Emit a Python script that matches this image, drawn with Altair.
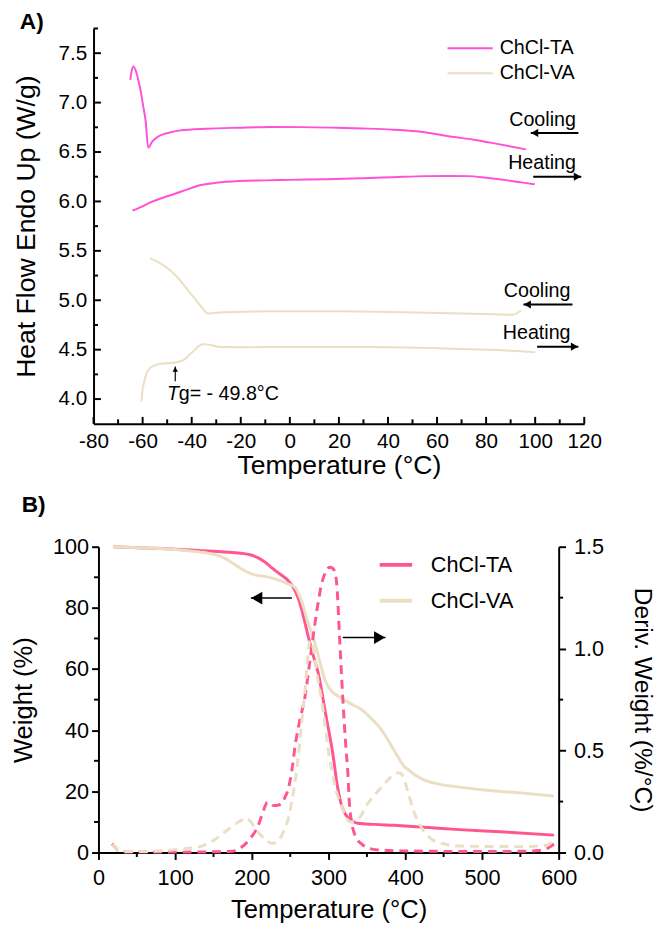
import altair as alt
import pandas as pd

FONT = "Liberation Sans"

# ---------------- Panel A: DSC ----------------
ta_cool_T = [-65.0, -64.5, -63.7, -62.5, -61.5, -60.8, -59.8, -58.8, -57.7, -56.1, -54.1, -50.1, -44.7, -34.0,
             -20.7, -7.3, 5.0, 19.4, 30.0, 42.1, 55.0, 66.2, 75.0, 85.0, 96.2]
ta_cool_v = [7.23, 7.316, 7.365, 7.30, 7.20, 7.117, 6.97, 6.82, 6.544, 6.604, 6.65, 6.69, 6.719, 6.736,
             6.746, 6.753, 6.752, 6.745, 6.738, 6.726, 6.70, 6.654, 6.625, 6.58, 6.527]

ta_heat_T = [-64.1, -60.0, -56.8, -52.0, -47.4, -42.0, -36.7, -30.0, -20.7, -10.0, 0.0, 15.4, 30.0, 42.0,
             55.5, 65.0, 72.9, 80.0, 88.9, 95.0, 99.8]
ta_heat_v = [5.908, 5.95, 5.99, 6.035, 6.073, 6.12, 6.163, 6.188, 6.206, 6.213, 6.218, 6.225, 6.235, 6.245,
             6.256, 6.258, 6.256, 6.24, 6.213, 6.19, 6.173]

va_cool_T = [-57.0, -54.0, -50.1, -46.5, -43.4, -40.5, -38.1, -35.6, -33.4, -31.0, -28.7, -20.0, -14.0, 0.0,
             19.4, 40.0, 55.5, 70.0, 80.0, 90.2, 92.5, 94.2]
va_cool_v = [5.427, 5.39, 5.328, 5.25, 5.16, 5.07, 4.997, 4.92, 4.864, 4.87, 4.877, 4.883, 4.887, 4.888,
             4.888, 4.882, 4.874, 4.866, 4.86, 4.854, 4.868, 4.897]

va_heat_T = [-60.5, -60.0, -59.3, -58.8, -57.5, -56.1, -52.7, -47.4, -43.4, -41.2, -39.4, -37.2, -35.4, -32.7,
             -28.7, -20.0, 0.0, 20.0, 40.0, 60.0, 80.0, 90.0, 100.0]
va_heat_v = [3.976, 4.10, 4.18, 4.234, 4.30, 4.33, 4.357, 4.367, 4.393, 4.44, 4.483, 4.535, 4.556, 4.55,
             4.527, 4.525, 4.527, 4.527, 4.525, 4.515, 4.50, 4.49, 4.475]

series_names = ["ChCl-TA", "ChCl-VA"]
colors_A = ["#FF50D8", "#EADFC2"]
colors_B = ["#FF5590", "#EADFC2"]

# annotations panel A
ann_text = ["Cooling", "Heating", "Cooling", "Heating"]
ann_T = [103.0, 102.8, 100.8, 100.6]
ann_v = [6.82, 6.388, 5.096, 4.668]
arr_T1 = [98.2, 99.2, 95.2, 100.8]
arr_T2 = [117.6, 118.8, 115.2, 117.6]
arr_v = [6.693, 6.25, 4.957, 4.53]
arr_dir = ["left", "right", "left", "right"]

tg_T = -46.7
tg_v1, tg_v2 = 4.18, 4.33
tg_text_T = -50.1
tg_text_v = 4.05

A_x_major = list(range(-80, 121, 20))
A_x_minor = list(range(-70, 111, 20))
A_y_major = [4.0, 4.5, 5.0, 5.5, 6.0, 6.5, 7.0, 7.5]
A_y_minor = [4.25, 4.75, 5.25, 5.75, 6.25, 6.75, 7.25, 7.75]

# ---------------- Panel B: TGA ----------------
ta_w_T = [18.9, 60, 100, 119.5, 150, 170, 188, 200, 209.4, 218, 226.5, 237, 248, 255, 260.8, 267, 273.6, 280,
          286.5, 296, 305.8, 311, 316.4, 322, 327.2, 333, 337.9, 360, 385, 430, 470.6, 530, 593.9]
ta_w = [100, 99.6, 99.2, 98.9, 98.5, 98.2, 97.8, 97.2, 96.2, 94.8, 93.0, 91.0, 88.7, 86.2, 82.9, 77.5, 70.5, 64.5,
        58.7, 45.5, 31.9, 22.5, 15.9, 12.5, 11.0, 10.0, 9.6, 9.2, 8.9, 8.2, 7.5, 6.7, 5.7]

va_w_T = [18.9, 60, 100, 119.5, 140, 153.8, 165, 175, 186, 196.6, 205, 213.7, 225, 239.4, 250, 256.6, 262, 267,
          273.6, 282.3, 289, 295.1, 303, 312.2, 318.6, 330, 342.1, 355, 367.8, 376.4, 384, 391.4, 398, 406.3,
          415, 427.7, 445, 470.5, 513.4, 550, 593.8]
va_w = [100, 99.6, 99.1, 98.6, 98.0, 97.3, 96.2, 94.6, 92.8, 91.4, 90.7, 90.4, 89.8, 88.7, 87.5, 86.6, 84.0, 80.5,
        74.8, 68.4, 62.0, 56.6, 53.0, 51.2, 50.2, 48.5, 46.9, 44.0, 40.5, 37.3, 34.0, 30.9, 28.3, 26.6,
        25.0, 23.4, 22.3, 21.4, 20.2, 19.5, 18.5]

ta_d_T = [17.6, 21, 25.3, 35, 60, 100, 140, 170, 179.4, 186, 192.3, 198, 205.1, 210, 213.7, 217, 220.1, 224,
          228.7, 233, 238.5, 243, 247.9, 252, 256.5, 262, 269.4, 276, 282.2, 287, 290.8, 296, 301.5, 305, 308,
          311, 314.3, 318.6, 322.9, 325, 327.2, 330, 333.6, 337, 342.1, 350, 363.5, 400, 450, 500, 550, 573.3,
          585, 593.9]
ta_d = [0.042, 0.03, 0.01, 0.003, 0.002, 0.002, 0.003, 0.005, 0.01, 0.025, 0.045, 0.07, 0.109, 0.15, 0.19,
        0.225, 0.246, 0.242, 0.23, 0.232, 0.238, 0.27, 0.318, 0.40, 0.527, 0.64, 0.768, 0.95, 1.122, 1.24,
        1.315, 1.375, 1.399, 1.395, 1.379, 1.30, 1.058, 0.752, 0.50, 0.399, 0.238, 0.15, 0.093, 0.065, 0.045,
        0.025, 0.013, 0.008, 0.006, 0.005, 0.006, 0.01, 0.02, 0.042]

va_d_T = [18.9, 23, 29.5, 60, 98, 115, 132.3, 148, 162.2, 175, 188, 193, 198.7, 206, 213.7, 220, 226.5, 231,
          235.1, 241, 248, 252, 256.5, 262.9, 266, 269.4, 273.6, 276, 279, 283, 286, 290.8, 295, 299.3, 305,
          310, 316.4, 323, 329.3, 340, 350.7, 362, 372.1, 381, 389.2, 393, 397.8, 404, 410.6, 417, 423.5, 433,
          444.9, 470.6, 500, 556.3, 586.2, 594.8]
va_d = [0.042, 0.02, 0.005, 0.005, 0.013, 0.02, 0.029, 0.055, 0.093, 0.13, 0.161, 0.168, 0.15, 0.11, 0.077,
        0.055, 0.045, 0.05, 0.061, 0.10, 0.174, 0.25, 0.351, 0.56, 0.68, 0.80, 0.994, 1.04, 1.02, 0.93, 0.85,
        0.752, 0.64, 0.51, 0.39, 0.30, 0.238, 0.17, 0.15, 0.17, 0.238, 0.29, 0.334, 0.37, 0.39, 0.39, 0.367,
        0.29, 0.206, 0.15, 0.109, 0.07, 0.048, 0.032, 0.03, 0.029, 0.037, 0.077]

B_arr_T1 = [198.7, 318.6]
B_arr_T2 = [252.2, 374.2]
B_arr_w = [83.2, 70.3]
B_arr_dir = ["left", "right"]

B_x_major = list(range(0, 601, 100))
B_x_minor = list(range(50, 551, 100))
B_w_major = [0, 20, 40, 60, 80, 100]
B_w_minor = [10, 30, 50, 70, 90]
B_d_major = [0.0, 0.5, 1.0, 1.5]
B_d_minor = [0.25, 0.75, 1.25]

A_W, A_H = 499, 402
B_W, B_H = 468, 311
B_OFF = 5              # panel B's plot sits a little right of panel A's
B_GW = B_W + B_OFF

AXIS_TXT = dict(labelFont=FONT, titleFont=FONT, labelColor="black", titleColor="black",
                titleFontWeight="normal", labelFontWeight="normal", domainColor="black",
                tickColor="black", grid=False, labelOverlap=False, labelFlush=False, domainWidth=2)


def frame(T, v, s, mode):
    return pd.DataFrame({"T": T, "v": v, "series": s, "mode": mode, "i": list(range(len(T)))})


def legend_rows(names, colors, x1, x2, xt, ys, sw, fs):
    layers = []
    for name, col, y in zip(names, colors, ys):
        d = pd.DataFrame({"t": [name]})
        layers.append(alt.Chart(d).mark_rule(color=col, strokeWidth=sw).encode(
            x=alt.value(x1), x2=alt.value(x2), y=alt.value(y)))
        layers.append(alt.Chart(d).mark_text(align="left", baseline="middle", fontSize=fs, font=FONT,
                                             color="black").encode(
            x=alt.value(xt), y=alt.value(y), text="t:N"))
    return layers


# ---------------- build panel A ----------------
dsc = pd.concat([
    frame(ta_cool_T, ta_cool_v, "ChCl-TA", "cool"),
    frame(ta_heat_T, ta_heat_v, "ChCl-TA", "heat"),
    frame(va_cool_T, va_cool_v, "ChCl-VA", "cool"),
    frame(va_heat_T, va_heat_v, "ChCl-VA", "heat"),
])

xA = alt.X("T:Q", scale=alt.Scale(domain=[-80, 120], nice=False),
           axis=alt.Axis(values=A_x_major, title="Temperature (°C)", ticks=False, tickSize=0,
                         labelExpr="toString(datum.value)",
                         labelPadding=7, titlePadding=2, labelFontSize=21, titleFontSize=27, **AXIS_TXT))
yA = alt.Y("v:Q", scale=alt.Scale(domain=[3.75, 7.75], nice=False, zero=False),
           axis=alt.Axis(values=A_y_major, format=".1f", title="Heat Flow Endo Up (W/g)", ticks=False,
                         tickSize=0, labelPadding=7, titlePadding=18, labelFontSize=21, titleFontSize=27,
                         **AXIS_TXT))

linesA = alt.Chart(dsc).mark_line(strokeWidth=2, interpolate="monotone").encode(
    x=xA, y=yA,
    color=alt.Color("series:N", scale=alt.Scale(domain=series_names, range=colors_A), legend=None),
    detail="mode:N", order="i:Q")

ann_df = pd.DataFrame({"T": ann_T, "v": ann_v, "text": ann_text})
annA = alt.Chart(ann_df).mark_text(fontSize=20, font=FONT, color="black").encode(
    x=xA, y=yA, text="text:N")

arr_df = pd.DataFrame({"T": arr_T1, "T2": arr_T2, "v": arr_v, "dir": arr_dir})
shaftA = alt.Chart(arr_df).mark_rule(strokeWidth=2, color="black").encode(x=xA, x2="T2:Q", y=yA)
headLA = alt.Chart(arr_df[arr_df["dir"] == "left"]).mark_point(
    shape="triangle-left", filled=True, size=70, color="black", opacity=1, xOffset=4).encode(x=xA, y=yA)
headRA = alt.Chart(arr_df[arr_df["dir"] == "right"].assign(T=lambda d: d["T2"])).mark_point(
    shape="triangle-right", filled=True, size=70, color="black", opacity=1, xOffset=-4).encode(x=xA, y=yA)

tg_df = pd.DataFrame({"T": [tg_T], "v": [tg_v1], "v2": [tg_v2]})
tgShaft = alt.Chart(tg_df).mark_rule(strokeWidth=1.2, color="black").encode(x=xA, y=yA, y2="v2:Q")
tgHead = alt.Chart(tg_df.assign(v=tg_v2)).mark_point(
    shape="triangle-up", filled=True, size=30, color="black", opacity=1, yOffset=3).encode(x=xA, y=yA)
tgT = alt.Chart(pd.DataFrame({"T": [tg_text_T], "v": [tg_text_v], "t": ["T"]})).mark_text(
    fontSize=20, font=FONT, fontStyle="italic", align="left", color="black").encode(x=xA, y=yA, text="t:N")
tgRest = alt.Chart(pd.DataFrame({"T": [tg_text_T], "v": [tg_text_v], "t": ["g= - 49.8°C"]})).mark_text(
    fontSize=20, font=FONT, align="left", dx=12, color="black").encode(x=xA, y=yA, text="t:N")

tickAxM = alt.Chart(pd.DataFrame({"T": A_x_major})).mark_rule(strokeWidth=2, color="black").encode(
    x=xA, y=alt.value(A_H), y2=alt.value(A_H - 7))
tickAxm = alt.Chart(pd.DataFrame({"T": A_x_minor})).mark_rule(strokeWidth=2, color="black").encode(
    x=xA, y=alt.value(A_H), y2=alt.value(A_H - 4.5))
tickAyM = alt.Chart(pd.DataFrame({"v": A_y_major})).mark_rule(strokeWidth=2, color="black").encode(
    y=yA, x=alt.value(0), x2=alt.value(7.5))
tickAym = alt.Chart(pd.DataFrame({"v": A_y_minor})).mark_rule(strokeWidth=2, color="black").encode(
    y=yA, x=alt.value(0), x2=alt.value(4.5))

labA = alt.Chart(pd.DataFrame({"t": ["A)"]})).mark_text(
    fontSize=23, fontWeight="bold", font=FONT, align="left", baseline="middle", color="black").encode(
    x=alt.value(-75), y=alt.value(-6), text="t:N")

legA = legend_rows(series_names, colors_A, 360, 406, 413, [20, 45.5], 2, 20)

panelA = alt.layer(linesA, annA, shaftA, headLA, headRA, tgShaft, tgHead, tgT, tgRest,
                   tickAxM, tickAxm, tickAyM, tickAym, labA, *legA).properties(width=A_W, height=A_H)

# ---------------- build panel B ----------------
wdf = pd.concat([
    pd.DataFrame({"T": ta_w_T, "w": ta_w, "series": "ChCl-TA", "i": list(range(len(ta_w_T)))}),
    pd.DataFrame({"T": va_w_T, "w": va_w, "series": "ChCl-VA", "i": list(range(len(va_w_T)))}),
])
ddf = pd.concat([
    pd.DataFrame({"T": ta_d_T, "d": ta_d, "series": "ChCl-TA", "i": list(range(len(ta_d_T)))}),
    pd.DataFrame({"T": va_d_T, "d": va_d, "series": "ChCl-VA", "i": list(range(len(va_d_T)))}),
])

xB = alt.X("T:Q", scale=alt.Scale(domain=[0, 600], nice=False, range=[B_OFF, B_GW]),
           axis=alt.Axis(values=B_x_major, title="Temperature (°C)", tickSize=7, tickWidth=2,
                         labelPadding=9, titlePadding=8, labelFontSize=22, titleFontSize=26, **AXIS_TXT))
yBw = alt.Y("w:Q", scale=alt.Scale(domain=[0, 100], nice=False),
            axis=alt.Axis(values=B_w_major, title="Weight (%)", orient="left", offset=-B_OFF, tickSize=7,
                          tickWidth=2, labelPadding=3, titlePadding=16, labelFontSize=22, titleFontSize=26,
                          **AXIS_TXT))
yBd = alt.Y("d:Q", scale=alt.Scale(domain=[0, 1.5], nice=False),
            axis=alt.Axis(values=B_d_major, format=".1f", title="Deriv. Weight (%/°C)", orient="right",
                          tickSize=7, tickWidth=2, labelPadding=8, titlePadding=27, labelFontSize=22,
                          titleFontSize=25, **AXIS_TXT))

colB = alt.Scale(domain=series_names, range=colors_B)

wLines = alt.Chart(wdf).mark_line(strokeWidth=3, interpolate="monotone").encode(
    x=xB, y=yBw, color=alt.Color("series:N", scale=colB, legend=None), order="i:Q")

B_arr_df = pd.DataFrame({"T": B_arr_T1, "T2": B_arr_T2, "w": B_arr_w, "dir": B_arr_dir})
shaftB = alt.Chart(B_arr_df).mark_rule(strokeWidth=1.5, color="black").encode(x=xB, x2="T2:Q", y=yBw)
headLB = alt.Chart(B_arr_df[B_arr_df["dir"] == "left"]).mark_point(
    shape="triangle-left", filled=True, size=170, color="black", opacity=1, xOffset=6).encode(x=xB, y=yBw)
headRB = alt.Chart(B_arr_df[B_arr_df["dir"] == "right"].assign(T=lambda d: d["T2"])).mark_point(
    shape="triangle-right", filled=True, size=170, color="black", opacity=1, xOffset=-6).encode(x=xB, y=yBw)

tickBxm = alt.Chart(pd.DataFrame({"T": B_x_minor})).mark_rule(strokeWidth=2, color="black").encode(
    x=xB, y=alt.value(B_H), y2=alt.value(B_H + 4.5))
tickBwm = alt.Chart(pd.DataFrame({"w": B_w_minor})).mark_rule(strokeWidth=2, color="black").encode(
    y=yBw, x=alt.value(B_OFF), x2=alt.value(B_OFF - 4.5))

labB = alt.Chart(pd.DataFrame({"t": ["B)"]})).mark_text(
    fontSize=23, fontWeight="bold", font=FONT, align="left", baseline="middle", color="black").encode(
    x=alt.value(-78 + B_OFF), y=alt.value(-42), text="t:N")

legB = legend_rows(series_names, colors_B, 286 + B_OFF, 319 + B_OFF, 338 + B_OFF, [18.5, 55], 4, 22)

leftB = alt.layer(wLines, shaftB, headLB, headRB, tickBxm, tickBwm, labB, *legB)

dLines = alt.Chart(ddf).mark_line(strokeWidth=3, strokeDash=[9, 6], interpolate="monotone").encode(
    x=xB, y=yBd, color=alt.Color("series:N", scale=colB, legend=None), order="i:Q")
tickBdm = alt.Chart(pd.DataFrame({"d": B_d_minor})).mark_rule(strokeWidth=2, color="black").encode(
    y=yBd, x=alt.value(B_GW), x2=alt.value(B_GW + 4.5))
rightB = alt.layer(dLines, tickBdm)

panelB = alt.layer(leftB, rightB).resolve_scale(y="independent").properties(width=B_GW, height=B_H)

chart = alt.vconcat(panelA, panelB, spacing=16, background="white",
                    padding={"left": 3, "top": -4, "right": 3, "bottom": 3}).resolve_scale(
    color="independent").configure_view(stroke=None)

chart.save("out.html", embed_options={"renderer": "svg", "actions": False})
